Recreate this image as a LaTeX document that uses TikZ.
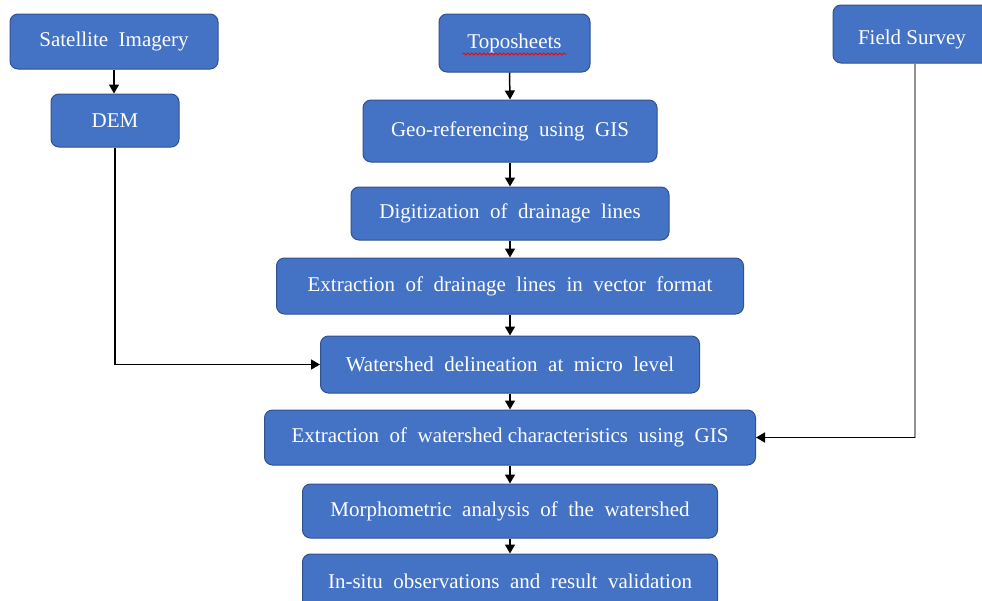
\documentclass[tikz,border=0pt]{standalone}
\usepackage{fontspec}
\setmainfont{Liberation Serif}
\usetikzlibrary{arrows.meta,positioning,calc,decorations.pathmorphing}
\definecolor{boxblue}{HTML}{4472C4}
\definecolor{boxedge}{HTML}{2F528F}
\tikzset{
  flowbox/.style={rectangle, rounded corners=4pt, draw=boxedge, line width=0.5pt, fill=boxblue,
                  text=white, align=center, font=\fontsize{10.5}{12}\selectfont,
                  minimum width=#1, inner sep=2pt},
  arr/.style={-{Triangle[length=4.5pt,width=5pt]}, line width=0.75pt, draw=black},
}
\begin{document}
\begin{tikzpicture}[x=1pt,y=1pt]
        \useasboundingbox (0,0) rectangle (491,-300.5);
        % sources
        \node[flowbox=104pt, minimum height=27.5pt] (sat) at (57,-20.75) {Satellite\ \ Imagery};
        \node[flowbox=64pt, minimum height=26.5pt] (dem) at (57.5,-60.25) {DEM};
        \node[flowbox=75.5pt, minimum height=29pt] (topo) at (257.25,-21.5) {Toposheets};
        \node[flowbox=79pt, minimum height=29pt] (field) at (456,-17) {\raisebox{-5pt}[0pt][0pt]{Field\ Survey}};
        % main column
        \node[flowbox=147pt, minimum height=31pt] (geo) at (255,-65.5) {Geo-referencing\ \ using\ \ GIS};
        \node[flowbox=159pt, minimum height=26.5pt] (dig) at (255,-106.75) {Digitization\ \ of\ \ drainage\ \ lines};
        \node[flowbox=233.5pt, minimum height=28pt] (vec) at (255,-143) {Extraction\ \ of\ \ drainage\ \ lines\ \ in\ \ vector\ \ format};
        \node[flowbox=189.5pt, minimum height=28.5pt] (wsd) at (255,-182.25) {Watershed\ \ delineation\ \ at\ \ micro\ \ level};
        \node[flowbox=245.5pt, minimum height=27.5pt] (chr) at (255,-218.75) {Extraction\ \ of\ \ watershed\ characteristics\ \ using\ \ GIS};
        \node[flowbox=207.5pt, minimum height=27pt] (morph) at (255,-255.5) {Morphometric\ \ analysis\ \ of\ \ the\ \ watershed};
        \node[flowbox=207.5pt, minimum height=27pt] (insitu) at (255,-290.5) {In-situ\ \ observations\ \ and\ \ result\ \ validation};
        % spell-check mark
        \draw[red, line width=0.4pt, decorate, decoration={snake, amplitude=0.5pt, segment length=2pt}]
          ($(topo.center)+(-26,-5.5)$) -- ++(52,0);
        % connectors
        \draw[arr] (sat.south) -- (sat.south |- dem.north);
        \draw[arr] ([xshift=-2.5pt]topo.south) -- (geo.north);
        \foreach \a/\b in {geo/dig,dig/vec,vec/wsd,wsd/chr,chr/morph,morph/insitu}
          \draw[arr] (\a) -- (\b);
        \draw[arr] (dem.south) |- (wsd.west);
        \coordinate (fc) at ([xshift=1.5pt]field.south |- chr.east);
        \draw[line width=1pt, draw=gray!85] ([xshift=1.5pt]field.south) -- (fc);
        \draw[arr] (fc) -- (chr.east);
      \end{tikzpicture}
\end{document}
